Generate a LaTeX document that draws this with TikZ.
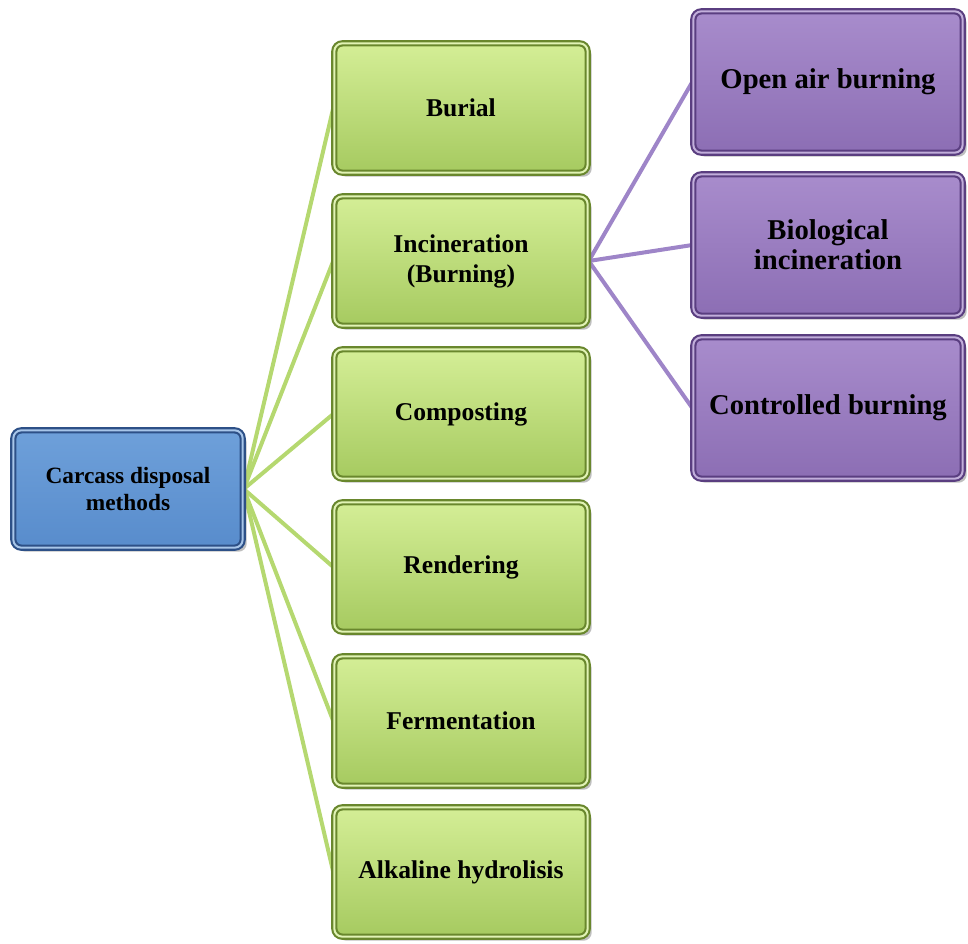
\documentclass[tikz,border=0pt]{standalone}
\usepackage{fontspec}
\setmainfont{Liberation Serif}
\usetikzlibrary{shadows,backgrounds}
\definecolor{blueedge}{RGB}{45,80,135}
\definecolor{bluetop}{RGB}{110,160,218}
\definecolor{bluebot}{RGB}{88,140,204}
\definecolor{greenedge}{RGB}{105,135,45}
\definecolor{greentop}{RGB}{212,238,150}
\definecolor{greenbot}{RGB}{166,202,96}
\definecolor{purpleedge}{RGB}{90,62,128}
\definecolor{purpletop}{RGB}{168,140,204}
\definecolor{purplebot}{RGB}{140,110,180}
\definecolor{greenline}{RGB}{181,216,112}
\definecolor{purpleline}{RGB}{158,133,200}
\tikzset{
  box/.style={rectangle, rounded corners=6pt, line width=1.6pt, double distance=1.5pt,
    align=center, font=\bfseries,
    drop shadow={shadow xshift=3pt, shadow yshift=-3pt, opacity=0.5}},
  rootbox/.style={box, draw=blueedge, double=bluetop!60!white, top color=bluetop, bottom color=bluebot,
    minimum width=172pt, minimum height=88pt, font=\bfseries\fontsize{17.5}{20.5}\selectfont},
  methodbox/.style={box, draw=greenedge, double=greentop!70!white, top color=greentop, bottom color=greenbot,
    minimum width=190pt, minimum height=97pt, font=\bfseries\fontsize{19.2}{22.5}\selectfont},
  burnbox/.style={box, draw=purpleedge, double=purpletop!70!white, top color=purpletop, bottom color=purplebot,
    minimum width=202pt, minimum height=106pt, font=\bfseries\fontsize{21.5}{22.5}\selectfont},
  greenlink/.style={draw=greenline, line width=3pt},
  purplelink/.style={draw=purpleline, line width=3pt}
}
\begin{document}
\begin{tikzpicture}[x=0.75pt,y=-0.75pt]
\useasboundingbox (0,0) rectangle (968,943);
% root
\node[rootbox] (root) at (128,489) {Carcass disposal\\methods};
% methods
\node[methodbox] (burial) at (461,108) {Burial};
\node[methodbox] (incin) at (461,261) {Incineration\\(Burning)};
\node[methodbox] (compost) at (461,414) {Composting};
\node[methodbox] (render) at (461,567) {Rendering};
\node[methodbox] (ferment) at (461,721) {Fermentation};
\node[methodbox] (alkali) at (461,872) {Alkaline hydrolisis};
% kinds of burning
\node[burnbox] (openair) at (828,82) {Open air burning};
\node[burnbox] (bioinc) at (828,245) {Biological\\incineration};
\node[burnbox] (control) at (828,408) {Controlled burning};
\begin{pgfonlayer}{background}
\foreach \m in {burial,incin,compost,render,ferment,alkali}
  \draw[greenlink] (root.east) -- (\m.west);
\foreach \b in {openair,bioinc,control}
  \draw[purplelink] (incin.east) -- (\b.west);
\end{pgfonlayer}
\end{tikzpicture}
\end{document}
